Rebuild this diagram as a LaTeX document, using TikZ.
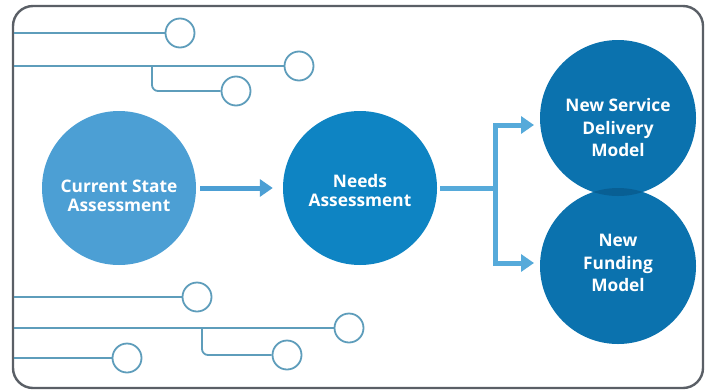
\documentclass[tikz,border=0pt]{standalone}
\usepackage{fontspec}
\setmainfont{Open Sans}
\usetikzlibrary{arrows.meta}
\definecolor{frameC}{HTML}{5A5F66}
\definecolor{wireC}{HTML}{5E9DBB}
\definecolor{curC}{HTML}{4C9FD4}
\definecolor{needC}{HTML}{0E84C3}
\definecolor{modC}{HTML}{0B72AE}
\definecolor{ovC}{HTML}{085F94}
\definecolor{arrC}{HTML}{56AADA}
\tikzset{
  wire/.style={draw=wireC, line width=1.8pt, rounded corners=6pt},
  pad/.style={circle, draw=wireC, line width=1.8pt, fill=white, minimum size=29pt, inner sep=0pt},
  bigc/.style={circle, minimum size=#1, inner sep=0pt, text=white, align=center},
  lbl/.style={text=white, align=center, font=\fontsize{17.3}{#1}\selectfont\bfseries},
  flow/.style={draw=arrC, line width=5pt, -{Triangle[length=13pt,width=17pt]}},
}
\begin{document}
\begin{tikzpicture}[x=1pt,y=-1pt]
\useasboundingbox (0,0) rectangle (706,391);
\fill[white] (0,0) rectangle (706,391);
\draw[frameC, line width=2.4pt, rounded corners=20pt] (13,6) rectangle (703,388);
% top wiring
\node[pad] (p1) at (180,33) {};
\node[pad] (p2) at (299,66) {};
\node[pad] (p3) at (236,91) {};
\coordinate (e1) at (14,33);
\coordinate (e2) at (14,66);
\coordinate (b1) at (152,66);
\draw[wire] (e1) -- (p1.west);
\draw[wire] (e2) -- (p2.west);
\draw[wire] (b1) |- (p3.west);
% bottom wiring
\node[pad] (q1) at (197,297) {};
\node[pad] (q2) at (349,328) {};
\node[pad] (q3) at (287,355) {};
\node[pad] (q4) at (127,358) {};
\coordinate (f1) at (14,297);
\coordinate (f2) at (14,328);
\coordinate (b2) at (202,328);
\coordinate (f4) at (14,358);
\draw[wire] (f1) -- (q1.west);
\draw[wire] (f2) -- (q2.west);
\draw[wire] (b2) |- (q3.west);
\draw[wire] (f4) -- (q4.west);
% main circles
\node[bigc=154pt, fill=curC] (cur) at (119,188) {};
\node[bigc=154pt, fill=needC] (need) at (360,188) {};
\node[bigc=156pt, fill=modC] (svc) at (618,118) {};
\node[bigc=156pt, fill=modC] (fund) at (618,266) {};
\begin{scope}
  \clip (618,118) circle (78pt);
  \fill[ovC] (618,266) circle (78pt);
\end{scope}
\node[lbl=19] (curt) at (119,196) {Current State\\Assessment};
\node[lbl=19] (needt) at (360,191) {Needs\\Assessment};
\node[lbl=22.5] (svct) at (618,128) {New Service\\Delivery\\Model};
\node[lbl=22.5] (fundt) at (618,263) {New\\Funding\\Model};
% arrows
\draw[flow, draw=curC, shorten <=4pt, shorten >=10pt] (cur.east) -- (need.west);
\coordinate (split) at (495,188);
\coordinate (ta) at (534,125);
\coordinate (tb) at (534,263);
\draw[draw=arrC, line width=5pt] ([xshift=3pt]need.east) -- (split);
\draw[flow] (split) |- (ta);
\draw[flow] (split) |- (tb);
\end{tikzpicture}
\end{document}
